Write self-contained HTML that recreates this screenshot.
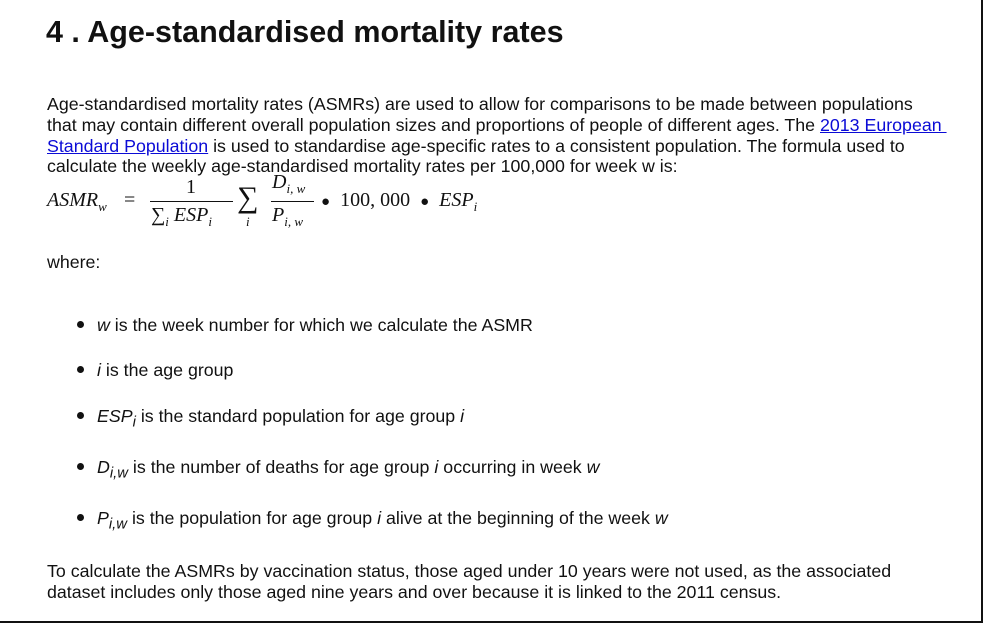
<!DOCTYPE html>
<html><head><meta charset="utf-8"><style>
body{margin:0;width:992px;height:625px;background:#fff;position:relative;overflow:hidden;font-family:"Liberation Sans",Arial,sans-serif;color:#111;}
.l{position:absolute;left:47px;font-size:17.8px;line-height:20px;white-space:nowrap;}
a{color:#0b0bd6;text-decoration:underline;}
.m{font-family:"Liberation Serif",serif;font-style:italic;position:absolute;white-space:nowrap;font-size:20px;}
.r{font-style:normal;}
.b{position:absolute;left:77px;width:7px;height:7px;border-radius:50%;background:#111;}
</style></head><body>
<div style="position:absolute;left:981px;top:0;width:2px;height:623px;background:#111"></div>
<div style="position:absolute;left:0;top:621px;width:983px;height:2px;background:#111"></div>
<div style="position:absolute;left:46px;top:15px;font-size:30.5px;font-weight:bold;white-space:nowrap">4 . Age-standardised mortality rates</div>
<div>
<div class="l" style="top:94px">Age-standardised mortality rates (ASMRs) are used to allow for comparisons to be made between populations</div>
<div class="l" style="top:115px">that may contain different overall population sizes and proportions of people of different ages. The <a href="#">2013 European&nbsp;</a></div>
<div class="l" style="top:136px"><a href="#">Standard Population</a> is used to standardise age-specific rates to a consistent population. The formula used to</div>
<div class="l" style="top:156px">calculate the weekly age-standardised mortality rates per 100,000 for week w is:</div>
</div>
<div>
<div class="m" style="left:47px;top:189px">ASMR<sub style="font-size:13px">w</sub></div>
<div class="m r" style="left:124px;top:189px">=</div>
<div class="m r" style="left:186px;top:176px">1</div>
<div style="position:absolute;left:150px;top:201px;width:83px;height:1px;background:#111"></div>
<div class="m" style="left:151px;top:204px"><span class="r">∑</span><sub style="font-size:13px">i</sub> ESP<sub style="font-size:13px">i</sub></div>
<div class="m r" style="left:237px;top:181px;font-size:30px">∑</div>
<div class="m" style="left:246px;top:214px;font-size:13px">i</div>
<div class="m" style="left:272px;top:171px">D<sub style="font-size:13px">i, w</sub></div>
<div style="position:absolute;left:271px;top:201px;width:43px;height:1px;background:#111"></div>
<div class="m" style="left:272px;top:204px">P<sub style="font-size:13px">i, w</sub></div>
<div class="m" style="left:321px;top:189px"><span class="r"><span style="font-size:15px">●</span> &nbsp;100, 000 &nbsp;<span style="font-size:15px">●</span></span>&nbsp; ESP<sub style="font-size:13px">i</sub></div>
</div>
<div class="l" style="top:252px">where:</div>
<div>
<div class="b" style="top:321px"></div><div class="l" style="left:97px;top:315px"><i>w</i> is the week number for which we calculate the ASMR</div>
<div class="b" style="top:366px"></div><div class="l" style="left:97px;top:360px"><i>i</i> is the age group</div>
<div class="b" style="top:412px"></div><div class="l" style="left:97px;top:406px"><i>ESP<sub>i</sub></i> is the standard population for age group <i>i</i></div>
<div class="b" style="top:463px"></div><div class="l" style="left:97px;top:457px"><i>D<sub>i,w</sub></i> is the number of deaths for age group <i>i</i> occurring in week <i>w</i></div>
<div class="b" style="top:514px"></div><div class="l" style="left:97px;top:508px"><i>P<sub>i,w</sub></i> is the population for age group <i>i</i> alive at the beginning of the week <i>w</i></div>
</div>
<div>
<div class="l" style="top:561px">To calculate the ASMRs by vaccination status, those aged under 10 years were not used, as the associated</div>
<div class="l" style="top:582px">dataset includes only those aged nine years and over because it is linked to the 2011 census.</div>
</div>
</body></html>
